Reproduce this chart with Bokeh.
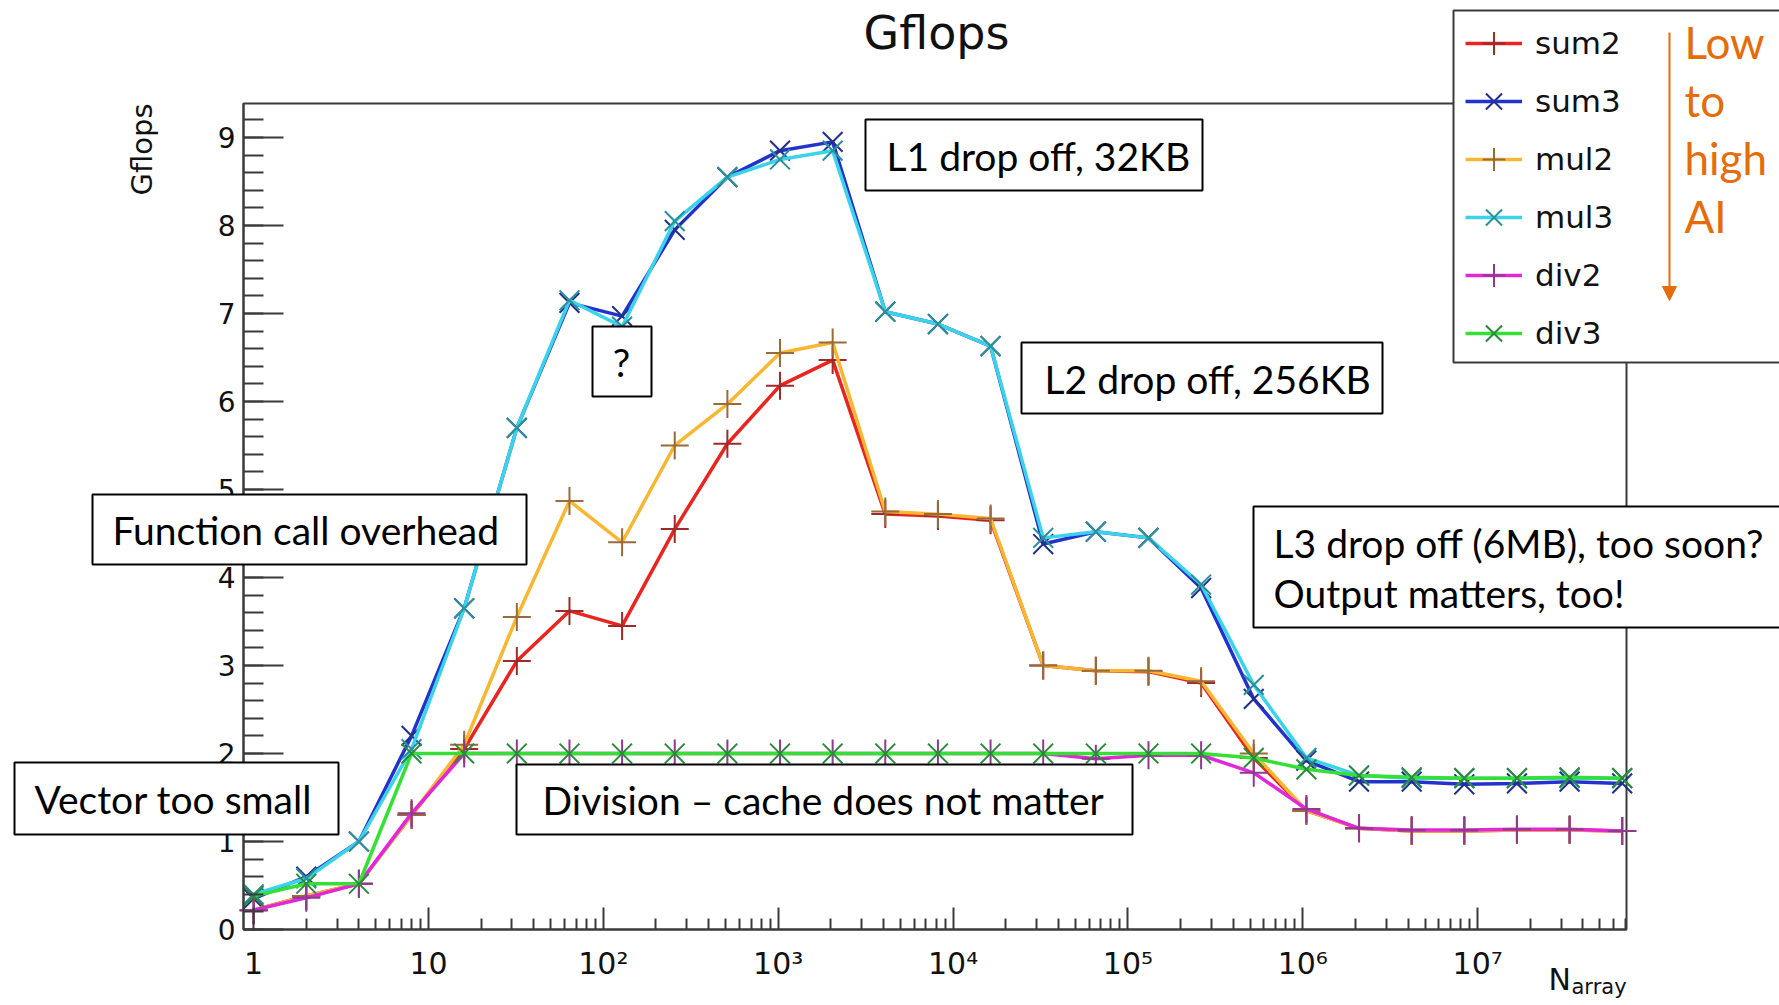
import math
from bokeh.plotting import figure
from bokeh.models import (Range1d, FixedTicker, Legend, LegendItem, Label,
                          BoxAnnotation, Arrow, NormalHead)
from bokeh.embed import file_html
from bokeh.resources import INLINE

# ---------------- data ----------------
n_array = [1, 2, 4, 8, 16, 32, 64, 128, 256, 512, 1024, 2048, 4096, 8192,
           16384, 32768, 65536, 131072, 262144, 524288, 1048576, 2097152,
           4194304, 8388608, 16777216, 33554432, 67108864]

sum2 = [0.22, 0.38, 0.52, 1.30, 2.05, 3.05, 3.62, 3.45, 4.55, 5.52, 6.18, 6.47,
        4.72, 4.70, 4.65, 3.00, 2.94, 2.93, 2.80, 1.95, 1.35, 1.15, 1.12, 1.12,
        1.13, 1.13, 1.12]
sum3 = [0.35, 0.60, 1.00, 2.20, 3.65, 5.70, 7.12, 6.97, 7.95, 8.55, 8.85, 8.95,
        7.02, 6.88, 6.63, 4.38, 4.52, 4.45, 3.88, 2.62, 1.92, 1.68, 1.68, 1.65,
        1.66, 1.68, 1.66]
mul2 = [0.22, 0.38, 0.52, 1.30, 2.10, 3.55, 4.87, 4.40, 5.50, 5.97, 6.55, 6.67,
        4.75, 4.72, 4.67, 3.00, 2.94, 2.94, 2.82, 2.00, 1.35, 1.15, 1.12, 1.12,
        1.13, 1.13, 1.12]
mul3 = [0.40, 0.58, 1.00, 2.05, 3.65, 5.70, 7.15, 6.85, 8.05, 8.55, 8.75, 8.85,
        7.02, 6.88, 6.63, 4.45, 4.52, 4.45, 3.92, 2.78, 1.95, 1.75, 1.72, 1.72,
        1.72, 1.72, 1.72]
div2 = [0.22, 0.36, 0.52, 1.32, 2.00, 2.00, 2.00, 2.00, 2.00, 2.00, 2.00, 2.00,
        2.00, 2.00, 2.00, 2.00, 1.94, 1.98, 1.98, 1.78, 1.37, 1.15, 1.13, 1.13,
        1.14, 1.14, 1.12]
div3 = [0.38, 0.52, 0.52, 2.00, 2.00, 2.00, 2.00, 2.00, 2.00, 2.00, 2.00, 2.00,
        2.00, 2.00, 2.00, 2.00, 2.00, 2.00, 2.00, 1.95, 1.82, 1.75, 1.73, 1.72,
        1.72, 1.73, 1.72]

series_names = ["sum2", "sum3", "mul2", "mul3", "div2", "div3"]
series_values = [sum2, sum3, mul2, mul3, div2, div3]
series_markers = ["cross", "x", "cross", "x", "cross", "x"]
line_colors = ["#e8251f", "#2233cc", "#f7b733", "#3ad3ea", "#e028d8", "#35e035"]
marker_colors = ["#9e2a2a", "#22308a", "#9a6a3a", "#2c8f9c", "#8e3b8e", "#2a8a3a"]

y_ticks = [0, 1, 2, 3, 4, 5, 6, 7, 8, 9]
x_ticks = [1, 10, 100, 1000, 10000, 100000, 1000000, 10000000]
x_tick_labels = ["1", "10", "10\u00b2", "10\u00b3", "10\u2074", "10\u2075", "10\u2076", "10\u2077"]

# ---------------- layout constants (page pixels) ----------------
W, H = 1779, 1005
X_MIN, X_MAX = 0.875, 7.1e7       # chart box in data units
Y_MIN, Y_MAX = 0.0, 9.386
BOX_L, BOX_R, BOX_T, BOX_B = 243, 1626, 103, 929   # chart box in pixels
ORANGE = "#E46C0A"
INK = "#3a3a3a"

dec_px = (BOX_R - BOX_L) / (math.log10(X_MAX) - math.log10(X_MIN))
unit_px = (BOX_B - BOX_T) / (Y_MAX - Y_MIN)
x_start = 10 ** (math.log10(X_MIN) - BOX_L / dec_px)
x_end = 10 ** (math.log10(X_MAX) + (W - BOX_R) / dec_px)
y_start = Y_MIN - (H - BOX_B) / unit_px
y_end = Y_MAX + BOX_T / unit_px

p = figure(width=W, height=H, output_backend="svg", toolbar_location=None,
           x_axis_type="log", x_range=Range1d(x_start, x_end),
           y_range=Range1d(y_start, y_end),
           min_border=0, min_border_left=0, min_border_right=0,
           min_border_top=0, min_border_bottom=0, title=None)
p.background_fill_color = "white"
p.border_fill_color = "white"
p.outline_line_color = None
p.xgrid.visible = False
p.ygrid.visible = False


def sx(x):
    return x


def sy(y):
    return H - y


# axes drawn at the chart box edges
minor_x = [k * 10 ** d for d in range(0, 8) for k in range(2, 10) if k * 10 ** d < X_MAX]
p.xaxis.ticker = FixedTicker(ticks=x_ticks, minor_ticks=minor_x)
p.xaxis.major_label_overrides = {t: lab for t, lab in zip(x_ticks, x_tick_labels)}
p.yaxis.ticker = FixedTicker(ticks=y_ticks, minor_ticks=[round(i * 0.2, 1) for i in range(0, 47)])
p.xaxis.fixed_location = Y_MIN
p.yaxis.fixed_location = X_MIN
p.xaxis.bounds = (X_MIN, X_MAX)
p.yaxis.bounds = (Y_MIN, Y_MAX)

for ax in (p.xaxis[0], p.yaxis[0]):
    ax.axis_line_color = INK
    ax.axis_line_width = 2
    ax.major_tick_line_color = INK
    ax.minor_tick_line_color = INK
    ax.major_tick_line_width = 2
    ax.minor_tick_line_width = 2
    ax.major_tick_out = 0
    ax.minor_tick_out = 0
    ax.major_label_text_font = "DejaVu Sans"
    ax.major_label_text_color = "#111111"

p.xaxis.major_tick_in = 22
p.xaxis.minor_tick_in = 11
p.xaxis.major_label_text_font_size = "30px"
p.xaxis.major_label_standoff = 16
p.yaxis.major_tick_in = 40
p.yaxis.minor_tick_in = 20
p.yaxis.major_label_text_font_size = "28px"
p.yaxis.major_label_standoff = 8

# chart frame (top and right edges)
p.add_layout(BoxAnnotation(left=X_MIN, right=X_MAX, bottom=Y_MIN, top=Y_MAX,
                           fill_alpha=0, line_color=INK, line_alpha=1.0,
                           line_width=2, level="underlay"))

# series
items = []
for name, vals, mk, lc, mc in zip(series_names, series_values, series_markers,
                                  line_colors, marker_colors):
    lr = p.line(n_array, vals, line_color=lc, line_width=3.5)
    sr = p.scatter(n_array, vals, marker=mk, size=28,
                   line_color=mc, line_width=2)
    items.append(LegendItem(label=name, renderers=[lr, sr]))

# legend panel (box) with the orange note, then the transparent legend on top
p.add_layout(BoxAnnotation(left=sx(1453), right=sx(1800), top=sy(10), bottom=sy(362),
                           left_units="screen", right_units="screen",
                           top_units="screen", bottom_units="screen",
                           fill_color="white", fill_alpha=1.0,
                           line_color=INK, line_width=2, line_alpha=1.0))
p.add_layout(Label(x=sx(1684), y=sy(15), x_units="screen", y_units="screen",
                   text="Low\nto\nhigh\nAI", text_font="Lato", text_font_size="44px",
                   text_line_height=1.12, text_align="left", text_baseline="top",
                   text_color=ORANGE))
p.add_layout(Arrow(x_start=sx(1669), y_start=sy(32), x_end=sx(1669), y_end=sy(300),
                   start_units="screen", end_units="screen", line_color=ORANGE,
                   line_width=2,
                   end=NormalHead(size=14, fill_color=ORANGE, line_color=ORANGE)))

legend = Legend(items=items, location=(sx(1465), sy(362)),
                label_text_font="DejaVu Sans", label_text_font_size="31px",
                label_text_color="#111111",
                glyph_width=57, glyph_height=58, label_height=58,
                label_standoff=13, spacing=0, padding=0, margin=0,
                border_line_color=None, background_fill_alpha=0.0)
p.add_layout(legend)

# title and axis titles
p.add_layout(Label(x=sx(936), y=sy(32), x_units="screen", y_units="screen",
                   text="Gflops", text_font="DejaVu Sans", text_font_size="46px",
                   text_align="center", text_baseline="middle", text_color="#111111"))
p.add_layout(Label(x=sx(141), y=sy(103), x_units="screen", y_units="screen",
                   text="Gflops", text_font="DejaVu Sans", text_font_size="29px",
                   angle=math.pi / 2, text_align="right", text_baseline="middle",
                   text_color="#111111"))
p.add_layout(Label(x=sx(1548), y=sy(979), x_units="screen", y_units="screen",
                   text="N", text_font="DejaVu Sans", text_font_size="30px",
                   text_align="left", text_baseline="middle", text_color="#111111"))
p.add_layout(Label(x=sx(1571), y=sy(986), x_units="screen", y_units="screen",
                   text="array", text_font="DejaVu Sans", text_font_size="21px",
                   text_align="left", text_baseline="middle", text_color="#111111"))

# annotation boxes
BOX_FONT = "Lato"
BOX_SIZE = "39px"


def box(l, t, r, b):
    p.add_layout(BoxAnnotation(left=sx(l), right=sx(r), top=sy(t), bottom=sy(b),
                               left_units="screen", right_units="screen",
                               top_units="screen", bottom_units="screen",
                               fill_color="white", fill_alpha=1.0,
                               line_color="black", line_width=2, line_alpha=1.0))


def text(x, y, s, align="left"):
    p.add_layout(Label(x=sx(x), y=sy(y), x_units="screen", y_units="screen",
                       text=s, text_font=BOX_FONT, text_font_size=BOX_SIZE,
                       text_align=align, text_baseline="middle", text_color="black"))


box(865, 119, 1202, 190); text(886, 155, "L1 drop off, 32KB")
box(592, 326, 651, 396); text(621, 361, "?", "center")
box(1021, 342, 1382, 413); text(1044, 378, "L2 drop off, 256KB")
box(92, 494, 526, 564); text(112, 529, "Function call overhead")
box(1253, 506, 1800, 627); text(1273, 542, "L3 drop off (6MB), too soon?"); text(1273, 592, "Output matters, too!")
box(14, 762, 338, 834); text(34, 798, "Vector too small")
box(516, 764, 1132, 834); text(542, 799, "Division \u2013 cache does not matter")

open("out.html", "w").write(file_html(p, INLINE))
